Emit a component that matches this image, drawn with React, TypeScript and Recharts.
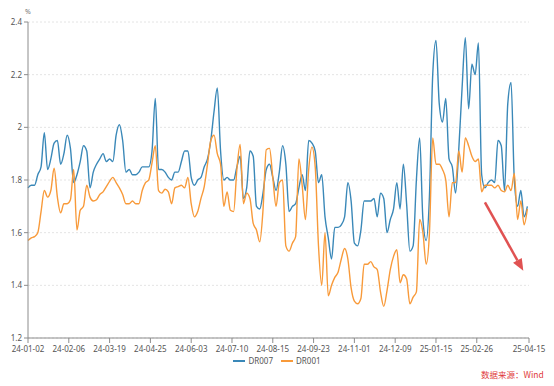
import { CartesianGrid, Label, Line, LineChart, ReferenceLine, XAxis, YAxis } from "recharts";

const BLUE = "#3a88b8";
const ORANGE = "#f89a3a";
const RED = "#e05252";
const AXIS = "#8c8c8c";
const TEXT = "#555";
const FONT = "'Noto Sans', 'Open Sans', sans-serif";

// one reading every 2 trading days, starting 24-01-02
const STEP = 2;

const DR007 = [
  1.77, 1.78, 1.78, 1.82, 1.85, 1.98, 1.84, 1.88, 1.94, 1.95,
  1.86, 1.9, 1.97, 1.92, 1.79, 1.82, 1.87, 1.93, 1.91, 1.77,
  1.83, 1.86, 1.88, 1.9, 1.87, 1.88, 1.87, 1.97, 2.01, 1.95,
  1.83, 1.84, 1.82, 1.82, 1.83, 1.85, 1.85, 1.85, 1.91, 2.11,
  1.84, 1.84, 1.83, 1.81, 1.8, 1.83, 1.83, 1.87, 1.91, 1.91,
  1.81, 1.78, 1.8, 1.81, 1.85, 1.88, 1.95, 2.06, 2.15, 1.91,
  1.8, 1.81, 1.8, 1.8, 1.85, 1.89, 1.73, 1.77, 1.91, 1.89,
  1.7, 1.69, 1.75, 1.84, 1.86, 1.81, 1.76, 1.83, 1.93, 1.86,
  1.68, 1.7, 1.71, 1.77, 1.82, 1.76, 1.95, 1.94, 1.91, 1.79,
  1.82, 1.66, 1.58, 1.5, 1.62, 1.62, 1.63, 1.66, 1.79, 1.72,
  1.56, 1.55, 1.61, 1.72, 1.72, 1.72, 1.73, 1.66, 1.75, 1.73,
  1.6, 1.65, 1.69, 1.79, 1.69, 1.86, 1.71, 1.53, 1.55, 1.8,
  1.96, 1.65, 1.57, 1.74, 2.2, 2.33, 2.09, 2.02, 2.11, 1.88,
  1.85, 1.75, 1.92, 2.15, 2.34, 2.07, 2.24, 2.2, 2.32, 1.82,
  1.77, 1.79, 1.8, 1.79, 1.95, 1.93, 1.76, 2.09, 2.17, 1.8,
  1.7, 1.76, 1.66, 1.7,
];

const DR001 = [
  1.57, 1.58, 1.585, 1.6, 1.68, 1.76, 1.735, 1.76, 1.845, 1.735,
  1.675, 1.71, 1.71, 1.725, 1.84, 1.61, 1.685, 1.7, 1.78, 1.735,
  1.72, 1.725, 1.745, 1.755, 1.775, 1.795, 1.81, 1.79, 1.77, 1.745,
  1.71, 1.71, 1.72, 1.71, 1.71, 1.76, 1.79, 1.8, 1.865, 1.93,
  1.76, 1.75, 1.765, 1.755, 1.71, 1.77, 1.775, 1.78, 1.77, 1.81,
  1.71, 1.66, 1.68, 1.73, 1.775, 1.86, 1.95, 1.97, 1.9, 1.86,
  1.7, 1.755, 1.685, 1.68, 1.84, 1.935, 1.71, 1.75, 1.73, 1.635,
  1.61, 1.565, 1.685, 1.915, 1.92, 1.81, 1.7, 1.79, 1.8, 1.55,
  1.53, 1.56, 1.585, 1.88, 1.78, 1.65, 1.84, 1.925, 1.85, 1.55,
  1.4, 1.6, 1.36, 1.4, 1.43, 1.45, 1.5, 1.54, 1.5, 1.39,
  1.34, 1.33, 1.35, 1.48, 1.48, 1.49, 1.47, 1.46, 1.375, 1.32,
  1.38, 1.46, 1.51, 1.535, 1.41, 1.44, 1.425, 1.33, 1.355, 1.375,
  1.65, 1.6, 1.48, 1.6, 1.96, 1.86, 1.86, 1.84, 1.8, 1.66,
  1.79, 1.79, 1.91, 1.83, 1.96, 1.93, 1.89, 1.87, 1.88, 1.755,
  1.78, 1.78, 1.78, 1.77, 1.78, 1.76, 1.755, 1.78, 1.76, 1.825,
  1.65, 1.72, 1.63, 1.69,
];

// trading-day index of each labelled date
const TICK_DAYS = [0, 25, 50, 75, 100, 125, 150, 175, 200, 225, 250, 275, 307];
const TICK_LABELS = [
  "24-01-02", "24-02-06", "24-03-19", "24-04-25", "24-06-03", "24-07-10", "24-08-15",
  "24-09-23", "24-11-01", "24-12-09", "25-01-15", "25-02-26", "25-04-15",
];
const Y_TICKS = [1.2, 1.4, 1.6, 1.8, 2, 2.2, 2.4];

const SERIES = [
  { key: "DR007", color: BLUE },
  { key: "DR001", color: ORANGE },
];

// downward trend arrow, in (trading day, %) space
const ARROW = [
  { x: 280, y: 1.715 },
  { x: 303.5, y: 1.455 },
];

const data = DR007.map((v, i) => ({ day: i * STEP, DR007: v, DR001: DR001[i] }));

function Arrow(props: any) {
  const { x1, y1, x2, y2 } = props;
  const a = Math.atan2(y2 - y1, x2 - x1);
  const len = 12;
  const half = 5;
  const bx = x2 - len * Math.cos(a);
  const by = y2 - len * Math.sin(a);
  const px = -Math.sin(a) * half;
  const py = Math.cos(a) * half;
  return (
    <g>
      <line x1={x1} y1={y1} x2={bx} y2={by} stroke={RED} strokeWidth={2.5} />
      <polygon points={`${x2},${y2} ${bx + px},${by + py} ${bx - px},${by - py}`} fill={RED} />
    </g>
  );
}

export default function App() {
  const tick = { fontSize: 8, fill: TEXT, fontFamily: FONT };
  return (
    <div style={{ position: "absolute", left: 0, top: 0, width: 554, height: 386, background: "#fff" }}>
      <LineChart width={554} height={356} data={data} margin={{ top: 22, right: 25, bottom: 0, left: 0 }}>
        <CartesianGrid vertical={false} stroke="#e4e4e4" strokeDasharray="2 2" />
        <XAxis
          dataKey="day"
          type="number"
          domain={[0, 307]}
          ticks={TICK_DAYS}
          interval={0}
          tickFormatter={(d: number) => TICK_LABELS[TICK_DAYS.indexOf(d)]}
          height={18}
          tickSize={5}
          tickMargin={3}
          stroke={AXIS}
          tick={tick}
        />
        <YAxis
          domain={[1.2, 2.4]}
          ticks={Y_TICKS}
          interval={0}
          width={28}
          tickSize={4}
          tickMargin={2}
          stroke={AXIS}
          tick={tick}
        >
          <Label
            position="top"
            content={(p: any) => (
              <text x={p.viewBox.x + p.viewBox.width} y={p.viewBox.y - 8} textAnchor="middle" fontSize={7} fill="#777" fontFamily={FONT}>
                %
              </text>
            )}
          />
        </YAxis>
        {SERIES.map((s) => (
          <Line
            key={s.key}
            dataKey={s.key}
            type="monotone"
            stroke={s.color}
            strokeWidth={1.4}
            dot={false}
            isAnimationActive={false}
          />
        ))}
        <ReferenceLine segment={ARROW} shape={Arrow} />
      </LineChart>
      <div
        style={{
          position: "absolute",
          top: 355,
          left: 0,
          width: 554,
          display: "flex",
          justifyContent: "center",
          gap: 8,
          fontFamily: FONT,
          fontSize: 8,
          color: TEXT,
          lineHeight: "12px",
        }}
      >
        {SERIES.map((s) => (
          <span key={s.key} style={{ display: "flex", alignItems: "center" }}>
            <span style={{ display: "inline-block", width: 12, height: 2.5, background: s.color, marginRight: 3 }} />
            {s.key}
          </span>
        ))}
      </div>
      <div
        style={{
          position: "absolute",
          left: 481,
          top: 368,
          fontFamily: "'Noto Sans CJK SC', sans-serif",
          fontSize: 8.5,
          color: "#e03a3a",
          whiteSpace: "nowrap",
        }}
      >
        数据来源：Wind
      </div>
    </div>
  );
}
